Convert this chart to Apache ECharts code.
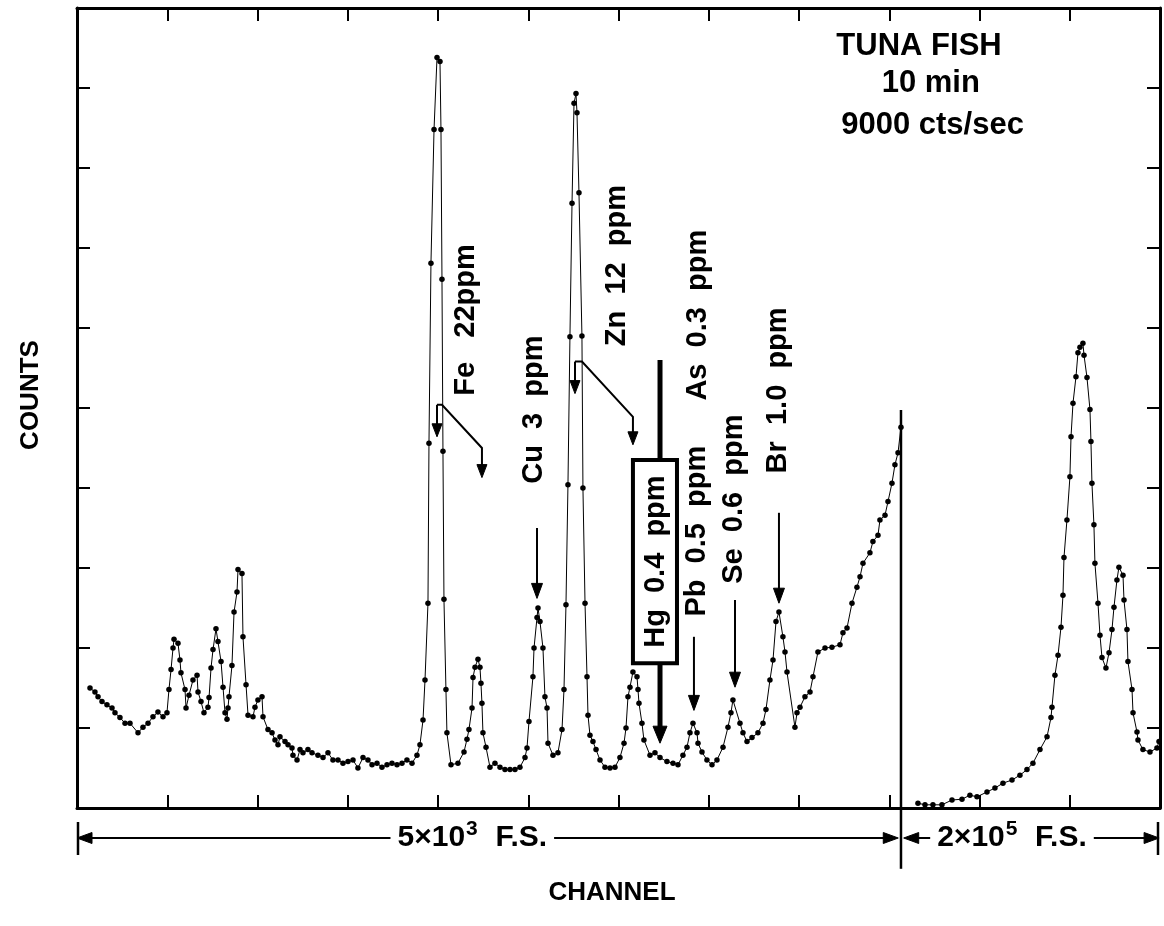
<!DOCTYPE html>
<html><head><meta charset="utf-8">
<script src="https://cdn.jsdelivr.net/npm/echarts@6.0.0/dist/echarts.min.js"></script>
<style>html,body{margin:0;padding:0;background:#fff}#c{width:1164px;height:926px}</style>
</head><body><div id="c"></div>
<script>
// ---- data (channel, relative counts 0-100) ----
const lowChannels = [14.4,19.9,23.3,27.7,33.2,38.8,42.1,47.6,53.2,58.7,67.6,73.1,78.7,84.2,89.7,95.3,99.7,101.9,104.2,106.4,107.5,111.9,114.1,115.2,119.7,120.8,124.1,128.5,133.0,134.1,137.4,140.7,145.1,146.3,148.5,150.7,154.0,156.2,159.6,161.8,164.0,166.2,167.3,168.4,171.7,174.0,177.3,178.4,182.8,183.9,187.3,189.5,195.0,197.2,200.5,205.0,206.1,211.6,216.1,219.4,222.7,224.9,230.5,233.8,238.2,239.3,243.8,247.1,250.4,255.9,260.4,267.0,272.6,278.1,283.6,289.2,294.7,300.3,305.8,311.3,316.9,322.4,326.9,332.4,337.9,343.5,349.0,354.6,360.1,365.6,371.2,376.7,380.0,383.4,385.6,388.9,390.0,392.2,395.6,398.9,402.2,403.3,404.4,405.5,406.6,408.8,409.9,414.4,422.1,428.8,432.1,434.3,437.7,438.8,441.0,444.3,446.5,447.6,448.7,449.8,453.2,457.6,463.1,468.7,474.2,479.8,485.3,490.8,496.4,498.6,500.8,505.2,506.4,509.7,510.8,513.0,516.3,518.5,520.8,521.9,527.4,532.9,537.4,539.6,541.8,544.0,546.2,548.5,550.7,552.9,554.0,556.2,559.5,560.6,562.9,565.1,566.2,568.4,571.7,575.1,579.5,585.0,590.6,596.1,601.6,606.1,608.3,610.5,612.7,616.0,620.5,621.6,622.7,626.0,628.2,634.9,640.4,646.0,653.7,660.4,665.9,671.4,675.9,679.2,682.5,687.0,688.1,692.5,698.0,703.6,709.1,715.8,721.3,724.6,726.8,734.6,737.9,742.4,747.9,754.5,760.1,763.4,767.8,771.2,774.5,777.8,782.2,784.5,786.7,795.5,797.8,801.1,806.6,812.2,815.5,821.0,828.8,836.5,845.4,848.7,853.2,858.7,864.2,867.6,870.9,878.6,881.9,887.5,889.7,895.3,898.6,903.0,906.3,909.7,913.0];
const lowCounts = [15.0,14.5,13.9,13.3,12.9,12.5,11.9,11.3,10.6,10.6,9.4,10.1,10.6,11.4,12.0,11.4,11.9,14.8,17.3,20.0,21.1,20.6,18.5,16.9,14.8,12.5,14.1,16.0,16.6,14.5,13.3,11.9,12.6,13.8,17.5,19.8,22.4,20.8,18.3,15.1,11.9,11.1,12.5,13.9,17.8,24.5,27.0,29.8,29.3,21.4,15.4,11.6,11.4,12.6,13.5,13.9,11.4,9.8,9.4,8.5,7.9,8.9,8.3,7.9,7.5,6.6,6.0,7.3,6.9,7.3,6.9,6.6,6.3,6.9,6.0,6.0,5.6,5.8,6.0,5.0,6.3,6.0,5.4,5.6,5.1,5.4,5.6,5.4,5.6,6.0,5.6,6.6,7.9,11.0,16.0,25.6,45.6,68.1,84.8,93.8,93.3,84.8,66.1,44.6,26.1,14.8,9.4,5.4,5.6,7.0,8.6,9.8,12.5,16.3,17.6,18.6,17.6,15.6,13.1,9.4,7.6,5.1,5.6,5.1,4.8,4.8,4.8,5.1,6.3,7.5,10.8,16.4,20.0,23.8,25.0,23.3,20.0,13.9,12.5,8.1,6.6,6.9,9.8,14.8,25.4,40.4,58.9,75.6,88.1,89.3,86.9,76.9,59.0,40.0,25.6,16.4,11.6,9.1,8.3,7.3,6.0,5.1,5.0,5.1,6.3,8.1,10.0,13.9,15.1,17.0,16.4,14.8,13.1,10.6,8.5,6.6,6.9,6.3,5.8,5.6,5.4,6.6,7.6,9.4,10.6,9.4,8.1,7.0,6.0,5.4,6.0,7.6,10.1,11.9,13.5,10.6,9.4,8.3,8.8,9.4,10.6,12.3,16.0,18.5,23.3,24.5,21.4,19.5,17.0,10.1,11.9,12.6,13.9,14.5,16.4,19.5,20.0,20.1,20.4,21.9,22.5,25.6,27.6,28.9,30.6,31.9,33.3,34.1,36.0,36.6,38.3,40.6,42.9,44.4,47.6];
const highChannels = [931.8,939.6,948.4,958.4,969.5,980.6,989.4,997.2,1008.3,1017.1,1026.0,1036.0,1044.8,1052.6,1059.2,1067.0,1074.8,1079.2,1080.3,1083.6,1087.0,1090.3,1092.5,1093.6,1096.9,1100.2,1101.4,1103.6,1106.9,1109.1,1111.3,1114.6,1115.8,1119.1,1122.4,1123.5,1124.6,1126.8,1127.9,1131.3,1133.5,1135.7,1140.1,1143.5,1146.8,1149.0,1152.3,1154.5,1159.0,1160.1,1163.4,1164.5,1169.0,1170.1,1174.5,1175.6,1181.1,1188.9,1196.6,1198.9];
const highCounts = [0.6,0.4,0.4,0.4,1.0,1.1,1.6,1.4,2.0,2.5,3.1,3.5,4.1,4.8,5.6,7.3,8.9,11.3,12.6,16.6,19.1,22.6,26.6,31.3,36.0,41.4,46.4,50.6,53.9,56.9,57.6,58.1,56.6,53.8,49.8,45.8,40.6,35.4,30.6,25.6,21.6,18.8,17.5,19.4,22.3,25.1,28.5,30.1,29.1,26.0,22.3,18.3,14.8,11.9,9.5,8.5,7.3,7.0,7.5,8.3];
const dividerChannel = 913;
const dividerTop = 49.75;
const rangeLabels = [['5×10', '3', '  F.S.'], ['2×10', '5', '  F.S.']];
const infoLines = ['TUNA FISH', '10 min', '9000 cts/sec'];
const axisTitles = ['CHANNEL', 'COUNTS'];
// element labels: [text, channel, count centre]
const peakLabels = [
  ['Fe   22ppm', 431, 61.0],
  ['Cu  3  ppm', 506, 49.8],
  ['Zn  12  ppm', 598, 67.8],
  ['As  0.3  ppm', 688, 61.6],
  ['Pb  0.5  ppm', 687, 34.6],
  ['Se  0.6  ppm', 728, 38.6],
  ['Br  1.0  ppm', 777, 52.2]
];
const hgLabel = 'Hg  0.4  ppm';

const FONT = '"Liberation Sans", Arial, Helvetica, sans-serif';
const chart = echarts.init(document.getElementById('c'), null, {renderer: 'canvas'});
const zip = (a, b) => a.map((v, i) => [v, b[i]]);
const axisCommon = {
  type: 'value',
  axisLine: {show: true, onZero: false, lineStyle: {color: '#000', width: 3}},
  axisTick: {show: true, inside: true, length: 13, lineStyle: {color: '#000', width: 2}},
  axisLabel: {show: false},
  splitLine: {show: false}
};
const traceStyle = {
  type: 'line', symbol: 'circle', symbolSize: 5.5, showSymbol: true,
  itemStyle: {color: '#000'}, lineStyle: {color: '#000', width: 1},
  silent: true, z: 3
};
chart.setOption({
  animation: false,
  backgroundColor: '#fff',
  grid: {left: 77, right: 4, top: 8, bottom: 118},
  xAxis: [
    Object.assign({}, axisCommon, {min: 0, max: 1200, interval: 100, position: 'bottom'}),
    Object.assign({}, axisCommon, {min: 0, max: 1200, interval: 100, position: 'top'})
  ],
  yAxis: [
    Object.assign({}, axisCommon, {min: 0, max: 100, interval: 10, position: 'left'}),
    Object.assign({}, axisCommon, {min: 0, max: 100, interval: 10, position: 'right'})
  ],
  series: [
    Object.assign({}, traceStyle, {data: zip(lowChannels, lowCounts)}),
    Object.assign({}, traceStyle, {data: zip(highChannels, highCounts)}),
    {type: 'line', symbol: 'none', data: [[dividerChannel, 0], [dividerChannel, dividerTop]],
     lineStyle: {color: '#000', width: 2.5}, silent: true, z: 4}
  ]
});

const px = (c, v) => chart.convertToPixel({xAxisIndex: 0, yAxisIndex: 0}, [c, v]);
const els = [];
function txt(text, x, y, size, rot, align) {
  return {
    type: 'text', x: x, y: y, rotation: rot || 0, z: 10,
    style: {text: text, fill: '#000', font: 'bold ' + size + 'px ' + FONT,
            textAlign: align || 'center', textVerticalAlign: 'middle', align: align || 'center', verticalAlign: 'middle'}
  };
}
function arrow(ptsData, opt) {
  opt = opt || {};
  const w = opt.width || 2, hl = opt.headLen || 15, hw = opt.headW || 11;
  const P = ptsData.map(q => px(q[0], q[1]));
  const last = P[P.length - 1], prev = P[P.length - 2];
  const dx = last[0] - prev[0], dy = last[1] - prev[1], L = Math.hypot(dx, dy);
  const ux = dx / L, uy = dy / L;
  const base = [last[0] - ux * hl, last[1] - uy * hl];
  const linePts = P.slice(0, -1).concat([[last[0] - ux * hl * 0.6, last[1] - uy * hl * 0.6]]);
  els.push({type: 'polyline', z: 9, shape: {points: linePts},
            style: {stroke: '#000', lineWidth: w, fill: null}});
  els.push({type: 'polygon', z: 9, shape: {points: [last,
            [base[0] - uy * hw / 2, base[1] + ux * hw / 2],
            [base[0] + uy * hw / 2, base[1] - ux * hw / 2]]},
            style: {fill: '#000', stroke: '#000', lineWidth: 1}});
}

// peak labels (rotated, reading bottom to top)
peakLabels.forEach(l => { const p = px(l[1], l[2]); els.push(txt(l[0], p[0], p[1], 29, Math.PI / 2)); });

// simple down arrows
arrow([[509.7, 35.0], [509.7, 26.2]]);      // Cu
arrow([[683.6, 21.4], [683.6, 12.2]]);      // Pb
arrow([[729.1, 26.0], [729.1, 15.1]]);      // Se
arrow([[777.8, 36.9], [777.8, 25.6]]);      // Br
// Fe: main peak + escape peak
arrow([[398.9, 50.4], [398.9, 46.4]], {headLen: 13, headW: 10});
arrow([[398.9, 50.4], [404.4, 50.4], [448.7, 45.0], [448.7, 41.3]], {headLen: 13, headW: 10});
// Zn
arrow([[551.8, 55.8], [551.8, 51.8]], {headLen: 13, headW: 10});
arrow([[551.8, 55.8], [559.5, 55.8], [616.0, 48.9], [616.0, 45.4]], {headLen: 13, headW: 10});

// Hg boxed label with heavy arrow
(function () {
  const a = px(616, 43.5), b = px(664.8, 18.1);
  const top = px(646, 56.0);
  els.push({type: 'line', z: 9, shape: {x1: top[0], y1: top[1], x2: top[0], y2: a[1]},
            style: {stroke: '#000', lineWidth: 5}});
  arrow([[646, 18.1], [646, 8.1]], {width: 5, headLen: 17, headW: 14});
  els.push({type: 'rect', z: 9, shape: {x: a[0], y: a[1], width: b[0] - a[0], height: b[1] - a[1]},
            style: {fill: '#fff', stroke: '#000', lineWidth: 4}});
  els.push(txt(hgLabel, (a[0] + b[0]) / 2 + 1, (a[1] + b[1]) / 2, 29, Math.PI / 2));
})();

// sample description
[[infoLines[0], 933, 95.2], [infoLines[1], 946, 90.6], [infoLines[2], 948, 85.3]].forEach(r => {
  const p = px(r[1], r[2]); els.push(txt(r[0], p[0], p[1], 31, 0));
});

// full-scale range arrows below the axis
(function () {
  const yv = -3.75;
  const l = px(0, yv), r = px(1200, yv);
  const dTop = px(dividerChannel, 0), dBot = px(dividerChannel, -7.6);
  els.push({type: 'line', z: 9, shape: {x1: dTop[0], y1: dTop[1], x2: dBot[0], y2: dBot[1]},
            style: {stroke: '#000', lineWidth: 2.5}});
  [l[0] + 1, r[0] - 2].forEach(x => els.push({type: 'line', z: 9,
      shape: {x1: x, y1: l[1] - 16, x2: x, y2: l[1] + 17}, style: {stroke: '#000', lineWidth: 2.5}}));
  arrow([[460, yv], [0, yv]]);
  arrow([[460, yv], [dividerChannel - 3, yv]]);
  arrow([[1040, yv], [dividerChannel + 3, yv]]);
  arrow([[1040, yv], [1199, yv]]);
  const ctx = document.createElement('canvas').getContext('2d');
  const bigF = 'bold 30px ' + FONT, supF = 'bold 21px ' + FONT;
  const meas = (s, f) => { ctx.font = f; return ctx.measureText(s).width; };
  [[px(438, yv), rangeLabels[0]], [px(1036, yv), rangeLabels[1]]].forEach(t => {
    const parts = t[1];
    const w0 = meas(parts[0], bigF), w1 = meas(parts[1], supF), w2 = meas(parts[2], bigF);
    const W = w0 + w1 + 2 + w2;
    let x = t[0][0] - W / 2;
    const y = t[0][1];
    els.push({type: 'rect', z: 10, shape: {x: x - 7, y: y - 18, width: W + 14, height: 36},
              style: {fill: '#fff'}});
    els.push(txt(parts[0], x, y, 30, 0, 'left'));
    x += w0 + 1;
    els.push(txt(parts[1], x, y - 9, 21, 0, 'left'));
    x += w1 + 1;
    els.push(txt(parts[2], x, y, 30, 0, 'left'));
  });
})();

// axis titles
els.push(txt(axisTitles[0], 612, 893, 26, 0));
els.push(txt(axisTitles[1], 31, 395, 26, Math.PI / 2));

chart.setOption({graphic: {elements: els}});
</script>
</body></html>
